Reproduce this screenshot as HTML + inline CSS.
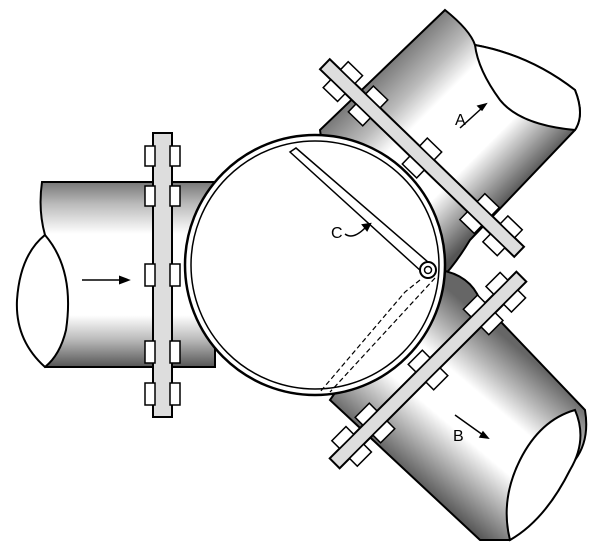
<!DOCTYPE html>
<html><head><style>html,body{margin:0;padding:0;background:#fff}svg{display:block}</style></head>
<body>
<svg width="600" height="553" viewBox="0 0 600 553" xmlns="http://www.w3.org/2000/svg">
<defs>
<linearGradient id="gl" x1="0" y1="0" x2="0" y2="1">
<stop offset="0" stop-color="#777"/><stop offset="0.12" stop-color="#bbb"/><stop offset="0.28" stop-color="#fff"/><stop offset="0.72" stop-color="#fff"/><stop offset="0.85" stop-color="#bbb"/><stop offset="1" stop-color="#555"/></linearGradient>
<linearGradient id="ga" gradientUnits="userSpaceOnUse" x1="390" y1="60" x2="520" y2="190">
<stop offset="0" stop-color="#777"/><stop offset="0.2" stop-color="#bbb"/><stop offset="0.35" stop-color="#fff"/><stop offset="0.7" stop-color="#fff"/><stop offset="0.85" stop-color="#aaa"/><stop offset="1" stop-color="#555"/></linearGradient>
<linearGradient id="gb" gradientUnits="userSpaceOnUse" x1="520" y1="350" x2="410" y2="480">
<stop offset="0" stop-color="#666"/><stop offset="0.2" stop-color="#bbb"/><stop offset="0.35" stop-color="#fff"/><stop offset="0.6" stop-color="#fff"/><stop offset="0.8" stop-color="#aaa"/><stop offset="1" stop-color="#555"/></linearGradient>
</defs>
<g stroke="#000" stroke-width="2">
<path d="M42,182 L215,182 L215,367 L45,367 Q20,330 20,300 Q20,255 45,235 Q38,210 42,182Z" fill="url(#gl)"/>
<path d="M45,235 Q75,270 66,330 Q60,355 45,367 Q15,340 17,300 Q20,255 45,235Z" fill="#fff"/>
<line x1="82" y1="280" x2="126" y2="280" stroke-width="1.5"/><path d="M128,280 l-8,-3 v6z" fill="#000"/>
<path d="M320,130 L445,10 Q470,30 475,45 Q530,55 575,90 Q585,115 575,130 L470,240 Q455,265 440,280 L330,200Z" fill="url(#ga)"/>
<path d="M475,45 Q530,55 575,90 Q585,115 575,130 Q520,125 500,100 Q478,70 475,45Z" fill="#fff"/>
<path d="M440,270 Q470,275 480,300 L585,410 Q590,440 575,460 Q540,520 510,540 L480,540 L330,400 L400,300Z" fill="url(#gb)"/>
<path d="M575,410 Q588,440 570,470 Q545,520 510,540 Q500,500 520,460 Q540,420 575,410Z" fill="#fff"/>
<circle cx="315" cy="265" r="130" fill="#fff" stroke-width="2.5"/>
<circle cx="315" cy="265" r="124" fill="none" stroke-width="1.5"/>
<path d="M290,152 L296,148 L428,262 L422,272Z" fill="#fff" stroke-width="1.5"/>
<circle cx="428" cy="270" r="8" fill="#fff"/><circle cx="428" cy="270" r="3.5" fill="none" stroke-width="1.5"/>
<g stroke-dasharray="5,3" stroke-width="1.2" fill="none"><path d="M420,280 L405,292 L320,392"/><path d="M435,278 L330,392"/></g>
<path d="M345,234 q8,6 20,-6" fill="none" stroke-width="1.5"/><path d="M370,224 l-7,1 4,5z" fill="#000"/>
<rect x="153" y="133" width="19" height="284" fill="#ddd"/>
<g fill="#fff" stroke-width="1.5">
<rect x="145" y="146" width="10" height="20"/><rect x="170" y="146" width="10" height="20"/>
<rect x="145" y="186" width="10" height="20"/><rect x="170" y="186" width="10" height="20"/>
<rect x="145" y="264" width="10" height="22"/><rect x="170" y="264" width="10" height="22"/>
<rect x="145" y="341" width="10" height="22"/><rect x="170" y="341" width="10" height="22"/>
<rect x="145" y="383" width="10" height="22"/><rect x="170" y="383" width="10" height="22"/>
</g>
<g transform="translate(422,158) rotate(44)">
<rect x="-135" y="-7" width="270" height="14" fill="#ddd"/>
<g fill="#fff" stroke-width="1.5">
<rect x="-120" y="-18" width="20" height="11"/><rect x="-120" y="7" width="20" height="11"/>
<rect x="-85" y="-18" width="20" height="11"/><rect x="-85" y="7" width="20" height="11"/>
<rect x="-10" y="-18" width="20" height="11"/><rect x="-10" y="7" width="20" height="11"/>
<rect x="70" y="-18" width="20" height="11"/><rect x="70" y="7" width="20" height="11"/>
<rect x="102" y="-18" width="20" height="11"/><rect x="102" y="7" width="20" height="11"/>
</g></g>
<g transform="translate(428,370) rotate(-45)">
<rect x="-132" y="-7" width="264" height="14" fill="#ddd"/>
<g fill="#fff" stroke-width="1.5">
<rect x="-118" y="-18" width="20" height="11"/><rect x="-118" y="7" width="20" height="11"/>
<rect x="-85" y="-18" width="20" height="11"/><rect x="-85" y="7" width="20" height="11"/>
<rect x="-10" y="-18" width="20" height="11"/><rect x="-10" y="7" width="20" height="11"/>
<rect x="68" y="-18" width="20" height="11"/><rect x="68" y="7" width="20" height="11"/>
<rect x="100" y="-18" width="20" height="11"/><rect x="100" y="7" width="20" height="11"/>
</g></g>
</g>
<g font-family="Liberation Sans, sans-serif" font-size="16" fill="#000">
<text x="455" y="125">A</text>
<text x="453" y="441">B</text>
<text x="331" y="238">C</text>
</g>
<g stroke="#000" stroke-width="1.5">
<line x1="460" y1="128" x2="482" y2="108"/><path d="M486,104 l-8,2 4,4z" fill="#000"/>
<line x1="455" y1="415" x2="483" y2="435"/><path d="M488,438 l-8,-1 3,-5z" fill="#000"/>
</g>
</svg>
</body></html>
